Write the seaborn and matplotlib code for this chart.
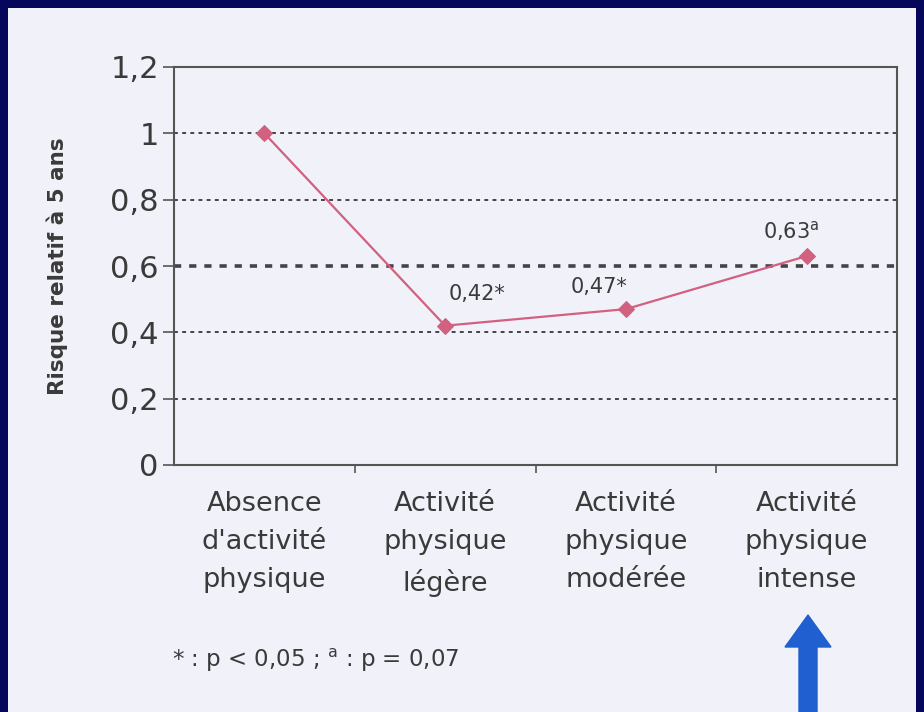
import matplotlib
matplotlib.use("Agg")
import matplotlib.pyplot as plt
import matplotlib.patches as mpatches
import seaborn as sns
import pandas as pd

# Data
categories = ["Absence\nd'activité\nphysique",
              "Activité\nphysique\nlégère",
              "Activité\nphysique\nmodérée",
              "Activité\nphysique\nintense"]
risque = [1.0, 0.42, 0.47, 0.63]
labels = [None, "0,42*", "0,47*", "0,63$^{\\mathregular{a}}$"]
yticks = [0, 0.2, 0.4, 0.6, 0.8, 1.0, 1.2]
ytick_labels = ["0", "0,2", "0,4", "0,6", "0,8", "1", "1,2"]
footnote = "* : p < 0,05 ; $^{\\mathregular{a}}$ : p = 0,07"

sns.set_theme(style="white")
plt.rcParams['font.family'] = ['DejaVu Sans']

panel = "#f1f1f9"
text_col = "#3a3a3a"
line_col = "#d2607f"

fig = plt.figure(figsize=(9.24, 7.12), dpi=100)
fig.patch.set_facecolor("#06065a")
fig.patches.append(mpatches.Rectangle((8/924, 0), 908/924, 704/712,
                                      transform=fig.transFigure,
                                      facecolor=panel, edgecolor="none", zorder=-5))

ax = fig.add_axes([174/924, 1 - 465/712, (897 - 174)/924, (465 - 67)/712])
ax.set_facecolor(panel)
ax.set_zorder(1)

df = pd.DataFrame({"x": list(range(len(categories))), "y": risque})
sns.lineplot(data=df, x="x", y="y", ax=ax, color=line_col, lw=1.6,
             marker="D", markersize=8, markeredgecolor=line_col, zorder=3)

# dotted reference lines
for v in yticks[1:-1]:
    ax.axhline(v, color="#444444", lw=2.6 if v == 0.6 else 1.4,
               linestyle=(0, (2, 2.2)), zorder=1)

# value labels: offsets (points) from each marker
offsets = {1: (23, 23), 2: (-19, 16), 3: (-11, 18)}
for i, (v, lab) in enumerate(zip(risque, labels)):
    if lab:
        dx, dy = offsets[i]
        ax.annotate(lab, (i, v), xytext=(dx, dy), textcoords="offset points",
                    ha="center", va="center", fontsize=15, color=text_col)

ax.set_xlim(-0.5, len(categories) - 0.5)
ax.set_ylim(0, 1.2)
ax.set_yticks(yticks)
ax.set_yticklabels(ytick_labels, fontsize=22, color=text_col)
ax.set_xticks(range(len(categories)))
ax.set_xticklabels(categories, fontsize=19.5, color=text_col, linespacing=1.6)
ax.set_xticks([i + 0.5 for i in range(len(categories) - 1)], minor=True)
ax.tick_params(axis="x", which="major", length=0, pad=19)
ax.tick_params(axis="x", which="minor", length=6, width=1.2, color="#555555",
               direction="out", bottom=True)
ax.tick_params(axis="y", length=8, width=1.2, color="#555555", direction="out",
               left=True, pad=3)

for s in ax.spines.values():
    s.set_color("#555555")
    s.set_linewidth(1.5)

ax.set_xlabel("")
ax.set_ylabel("Risque relatif à 5 ans", fontsize=15.5, color=text_col,
              fontweight="bold", labelpad=30)

fig.text(172/924, 1 - 660/712, footnote, fontsize=16.5, color=text_col,
         ha="left", va="center")

# upward arrow under the last category
fig.patches.append(mpatches.FancyArrow(808/924, 0.0, 0, 97/712, width=18/924,
                                       head_width=46/924, head_length=32/712,
                                       length_includes_head=True,
                                       transform=fig.transFigure,
                                       color="#1f5fcf", zorder=2))

fig.savefig("out.png", dpi=100, facecolor=fig.get_facecolor())
